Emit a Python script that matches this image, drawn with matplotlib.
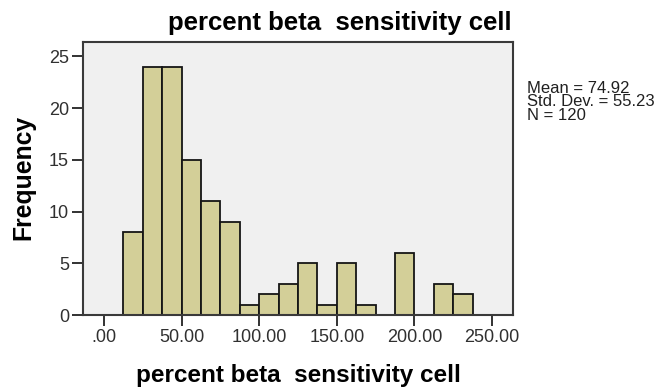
import matplotlib
matplotlib.use("Agg")
import matplotlib.pyplot as plt

plt.rcParams['font.family'] = ['Liberation Sans', 'DejaVu Sans']

# histogram bins (edges) and counts
bin_edges = [12.5, 25, 37.5, 50, 62.5, 75, 87.5, 100, 112.5, 125, 137.5,
             150, 162.5, 175, 187.5, 200, 212.5, 225, 237.5]
counts = [8, 24, 24, 15, 11, 9, 1, 2, 3, 5, 1, 5, 1, 0, 6, 0, 3, 2]
x_ticks = [0, 50, 100, 150, 200, 250]
x_tick_labels = [".00", "50.00", "100.00", "150.00", "200.00", "250.00"]
y_ticks = [0, 5, 10, 15, 20, 25]
stats_lines = ["Mean = 74.92", "Std. Dev. = 55.23", "N = 120"]
var_label = "percent beta  sensitivity cell"

W, H = 663, 389
fig = plt.figure(figsize=(W / 100, H / 100), dpi=100)
# axes box: x 83..513, y 42..315 (pixels)
ax = fig.add_axes([83 / W, 1 - 315 / H, 430 / W, 273 / H])
ax.set_facecolor("#f0f0f0")

lefts = bin_edges[:-1]
widths = [b - a for a, b in zip(bin_edges[:-1], bin_edges[1:])]
ax.bar(lefts, counts, width=widths, align="edge", color="#d3cf98",
       edgecolor="#151515", linewidth=1.3)

ax.set_xlim(-13.5, 263.5)
ax.set_ylim(0, 26.4)
ax.set_xticks(x_ticks)
ax.set_xticklabels(x_tick_labels)
ax.set_yticks(y_ticks)
ax.tick_params(axis="both", direction="out", length=8, width=1.3,
               labelsize=13, color="#222222", labelcolor="#303030", pad=2)
for s in ax.spines.values():
    s.set_linewidth(1.5)
    s.set_color("#3a3a3a")

# title and axis labels placed in figure pixels
fig.text(340 / W, 1 - 30 / H, var_label, fontsize=18.5, fontweight="bold",
         ha="center", va="baseline")
fig.text(298 / W, 1 - 382 / H, var_label, fontsize=17.5, fontweight="bold",
         ha="center", va="baseline")
fig.text(35 / W, 1 - 177.5 / H, "Frequency", fontsize=17.8,
         fontweight="bold", rotation=90, ha="right", va="center")

for i, line in enumerate(stats_lines):
    fig.text(527 / W, 1 - (93 + 13.5 * i) / H, line, fontsize=12,
             color="#202020", ha="left", va="baseline")

fig.savefig("out.png", dpi=100)
